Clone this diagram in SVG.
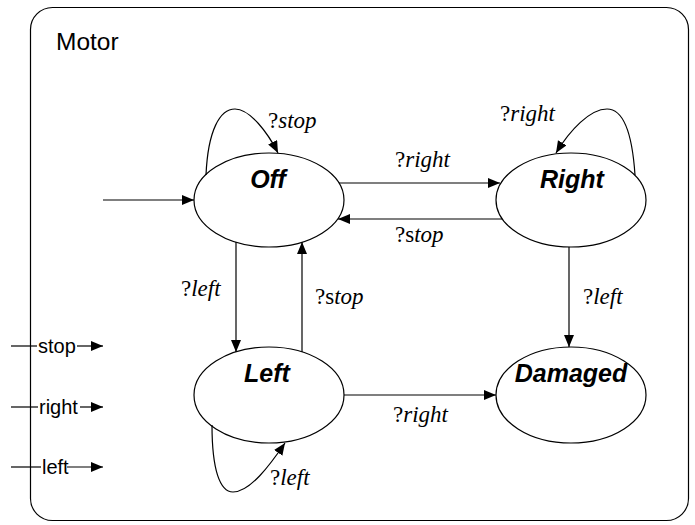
<svg xmlns="http://www.w3.org/2000/svg" width="695" height="525" viewBox="0 0 695 525">
<defs>
<marker id="ah" markerUnits="userSpaceOnUse" markerWidth="13" markerHeight="11" refX="12" refY="5" orient="auto">
<path d="M0,0 L12,5 L0,10 z" fill="#000"/>
</marker>
<style>
.st{fill:#fff;stroke:#000;stroke-width:1.2}
.nm{font-family:"Liberation Sans",Arial,sans-serif;font-weight:bold;font-style:italic;font-size:25px;text-anchor:middle;fill:#000}
.lb{font-family:"Liberation Serif","Times New Roman",serif;font-size:23px;fill:#000}
.it{font-style:italic}
.pt{font-family:"Liberation Sans",Arial,sans-serif;font-size:20px;fill:#000}
.cn{fill:none;stroke:#000;stroke-width:1.2}
</style>
</defs>
<rect x="30.5" y="7.5" width="658" height="513" rx="22" ry="22" fill="#fff" stroke="#000" stroke-width="1.2"/>
<text x="56" y="50" class="pt" style="font-size:24.5px">Motor</text>
<g id="off"><ellipse class="st" cx="269" cy="200" rx="75" ry="47"/><text class="nm" x="268" y="188">Off</text></g>
<g id="right"><ellipse class="st" cx="571" cy="200" rx="75" ry="47"/><text class="nm" x="572" y="188">Right</text></g>
<g id="left"><ellipse class="st" cx="269" cy="395" rx="75" ry="48"/><text class="nm" x="267" y="382">Left</text></g>
<g id="damaged"><ellipse class="st" cx="571" cy="395" rx="75" ry="48"/><text class="nm" x="571" y="382">Damaged</text></g>
<g id="connectors">
<path class="cn" d="M103,200 L194,200" marker-end="url(#ah)"/>
<path class="cn" d="M339,183 L500,183" marker-end="url(#ah)"/>
<path class="cn" d="M502,219 L338,219" marker-end="url(#ah)"/>
<path class="cn" d="M236,242 L236,352" marker-end="url(#ah)"/>
<path class="cn" d="M302,352 L302,242" marker-end="url(#ah)"/>
<path class="cn" d="M569,247 L569,347" marker-end="url(#ah)"/>
<path class="cn" d="M344,395 L496,395" marker-end="url(#ah)"/>
<path class="cn" d="M206,175 C208,130 220,109 235,109 C250,109 268,133 278,153" marker-end="url(#ah)"/>
<path class="cn" d="M635,175 C632,130 622,109 607,109 C590,109 570,130 556,153" marker-end="url(#ah)"/>
<path class="cn" d="M212,425 C212,470 220,492 233,492 C250,492 270,465 285,443" marker-end="url(#ah)"/>
<path class="cn" d="M11,346 L37,346"/>
<path class="cn" d="M77,346 L103,346" marker-end="url(#ah)"/>
<path class="cn" d="M11,407 L38,407"/>
<path class="cn" d="M80,407 L103,407" marker-end="url(#ah)"/>
<path class="cn" d="M11,467 L41,467"/>
<path class="cn" d="M67,467 L103,467" marker-end="url(#ah)"/>
</g>
<g id="labels">
<text class="lb" x="268" y="128">?<tspan class="it">stop</tspan></text>
<text class="lb" x="500" y="121">?<tspan class="it">right</tspan></text>
<text class="lb" x="395" y="167">?<tspan class="it">right</tspan></text>
<text class="lb" x="395" y="242">?s<tspan class="it">top</tspan></text>
<text class="lb" x="181" y="296">?<tspan class="it">left</tspan></text>
<text class="lb" x="315" y="304">?s<tspan class="it">top</tspan></text>
<text class="lb" x="583" y="304">?<tspan class="it">left</tspan></text>
<text class="lb" x="393" y="422">?<tspan class="it">right</tspan></text>
<text class="lb" x="270" y="485">?<tspan class="it">left</tspan></text>
<text class="pt" x="38" y="353">stop</text>
<text class="pt" x="39" y="414">right</text>
<text class="pt" x="42" y="474">left</text>
</g>
</svg>
